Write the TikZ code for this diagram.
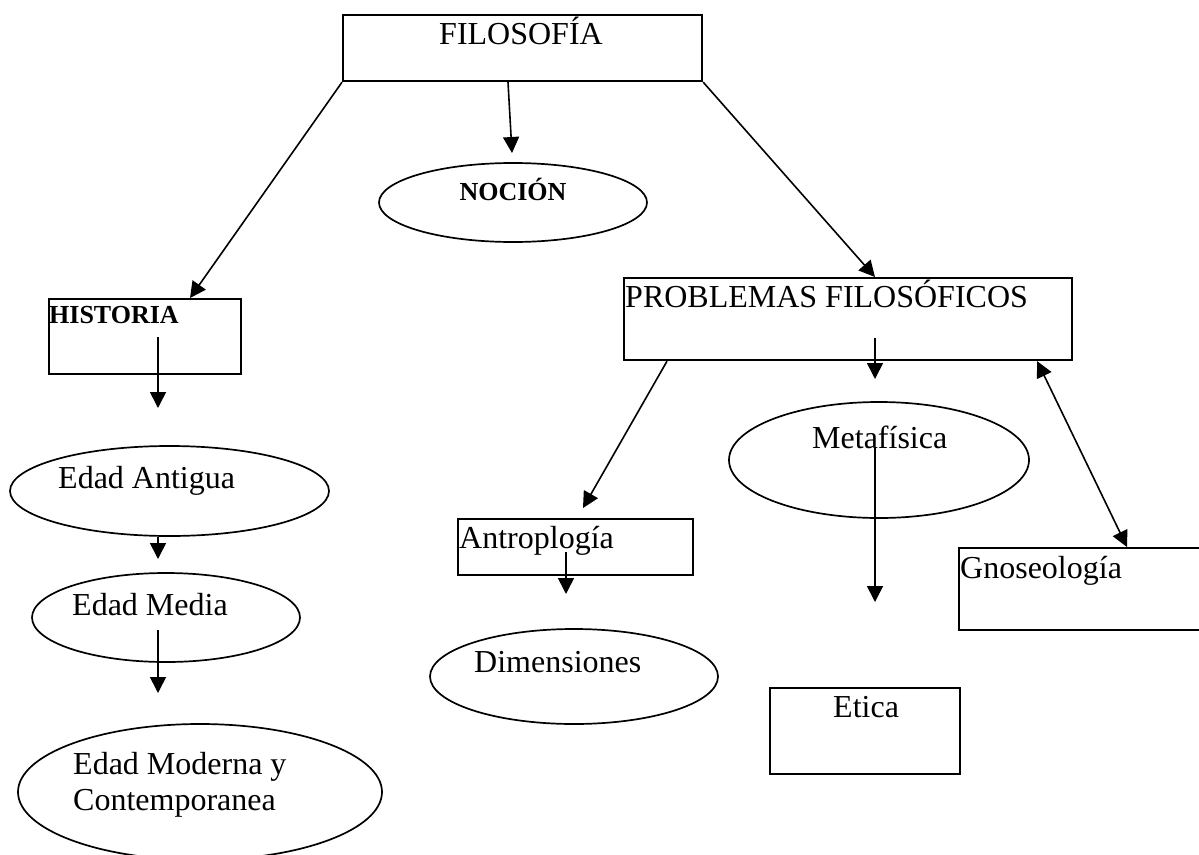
\documentclass[tikz,border=0pt]{standalone}
\usepackage{fontspec}
\setmainfont{Liberation Serif}
\usetikzlibrary{shapes.geometric,arrows.meta}
\begin{document}
\begin{tikzpicture}[x=1pt,y=-1pt,
  box/.style={draw,line width=2.2pt,rectangle,minimum width=#1,inner sep=0pt,anchor=north west},
  oval/.style={draw,line width=1.7pt,ellipse,inner sep=0pt},
  txt/.style={inner sep=0pt,anchor=base west,font=\fontsize{32}{36}\selectfont},
  btxt/.style={inner sep=0pt,anchor=base west,font=\fontsize{26}{30}\selectfont\bfseries},
  arr/.style={line width=1.6pt,-{Triangle[length=16pt,width=16pt]}},
  darr/.style={line width=1.6pt,{Triangle[length=16pt,width=16pt]}-{Triangle[length=16pt,width=16pt]}}]
\useasboundingbox (0,0) rectangle (1199,854);
\clip (0,0) rectangle (1199,854);
% boxes
\node[box=359pt,minimum height=66pt] (filo) at (342,14) {};
\node[box=192pt,minimum height=75pt] (hist) at (48,298) {};
\node[box=448pt,minimum height=82pt] (prob) at (623,277) {};
\node[box=235pt,minimum height=56pt] (antro) at (457,518) {};
\node[box=190pt,minimum height=86pt] (etica) at (769,687) {};
\node[box=250pt,minimum height=82pt] (gnos) at (958,547) {};
% ellipses
\node[oval,minimum width=268pt,minimum height=79pt] (nocion) at (513,202.5) {};
\node[oval,minimum width=319pt,minimum height=90pt] (edant) at (169.5,491) {};
\node[oval,minimum width=268pt,minimum height=89pt] (edmed) at (166,617.5) {};
\node[oval,minimum width=364pt,minimum height=136pt] (edmod) at (200,792) {};
\node[oval,minimum width=300pt,minimum height=116pt] (meta) at (879,460) {};
\node[oval,minimum width=288pt,minimum height=95pt] (dim) at (574,676.5) {};
% texts
\node[txt,anchor=base] (tfilo) at (521,44) {FILOSOFÍA};
\node[btxt,anchor=base] (tnocion) at (513,200) {NOCIÓN};
\node[btxt] (thist) at (49,323) {HISTORIA};
\node[txt] (tprob) at (625,307) {PROBLEMAS FILOSÓFICOS};
\node[txt] (tedant) at (58,488) {Edad Antigua};
\node[txt] (tedmed) at (72,615) {Edad Media};
\node[txt] (tedmod1) at (73,774) {Edad Moderna y};
\node[txt] (tedmod2) at (73,810) {Contemporanea};
\node[txt] (tmeta) at (812,448) {Metafísica};
\node[txt] (tantro) at (459,548) {Antroplogía};
\node[txt] (tdim) at (474,672) {Dimensiones};
\node[txt] (tetica) at (833,717) {Etica};
\node[txt] (tgnos) at (960,578) {Gnoseología};
% free ends
\coordinate (nocTip) at (512,153);
\coordinate (histA) at (158,337);
\coordinate (histB) at (158,408);
\coordinate (antA) at (158,559);
\coordinate (medA) at (158,630);
\coordinate (medB) at (158,693);
\coordinate (probA) at (875,338);
\coordinate (probB) at (875,379);
\coordinate (antroTip) at (583,508);
\coordinate (antroA) at (566,552);
\coordinate (antroB) at (566,594);
\coordinate (metaA) at (875,447);
\coordinate (metaB) at (875,602);
% connectors
\draw[arr] (filo.south west) -- ([xshift=142pt]hist.north west);
\draw[arr] ([xshift=166pt]filo.south west) -- (nocTip);
\draw[arr] (filo.south east) -- ([xshift=252pt]prob.north west);
\draw[arr] (histA) -- (histB);
\draw[arr] ([xshift=-11.5pt]edant.south) -- (antA);
\draw[arr] (medA) -- (medB);
\draw[arr] (probA) -- (probB);
\draw[arr] ([xshift=44pt]prob.south west) -- (antroTip);
\draw[arr] (antroA) -- (antroB);
\draw[arr] (metaA) -- (metaB);
\draw[darr] ([xshift=-36pt]prob.south east) -- ([xshift=169pt]gnos.north west);
\end{tikzpicture}
\end{document}
